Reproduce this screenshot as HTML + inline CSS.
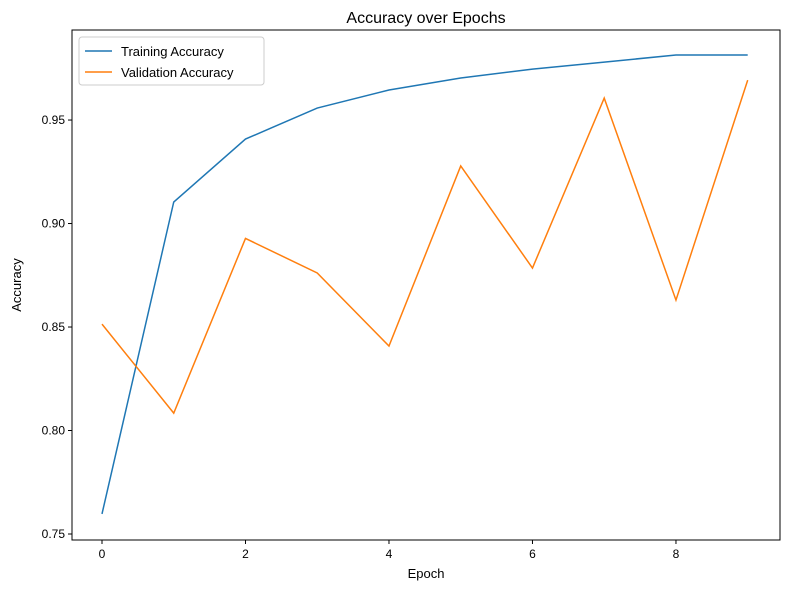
<!DOCTYPE html>
<html><head><meta charset="utf-8"><style>
body{margin:0;background:#fff;}
svg{display:block;font-family:"Liberation Sans","DejaVu Sans",sans-serif;}
</style></head><body>
<svg id="chart" width="790" height="590" viewBox="0 0 790 590" xmlns="http://www.w3.org/2000/svg">
<rect width="790" height="590" fill="#fff"/>
<text x="426" y="23" font-size="16" text-anchor="middle" fill="#000">Accuracy over Epochs</text>
<g id="ticks"></g>
<g id="lines"></g>
<rect x="72" y="30" width="708" height="510" fill="none" stroke="#000" stroke-width="1"/>
<text x="426" y="578" font-size="13" text-anchor="middle">Epoch</text>
<text x="0" y="0" font-size="13" text-anchor="middle" transform="translate(21,285) rotate(-90)">Accuracy</text>
<g>
<rect x="79" y="37" width="185" height="48" rx="3" fill="#fff" fill-opacity="0.8" stroke="#ccc"/>
<line x1="85" y1="51" x2="112" y2="51" stroke="#1f77b4" stroke-width="1.5"/>
<text x="121" y="56" font-size="13">Training Accuracy</text>
<line x1="85" y1="72" x2="112" y2="72" stroke="#ff7f0e" stroke-width="1.5"/>
<text x="121" y="77" font-size="13">Validation Accuracy</text>
</g>
</svg>
<script>
const epochs = [0,1,2,3,4,5,6,7,8,9];
const trainAcc = [0.7597,0.9104,0.9408,0.9558,0.9645,0.9703,0.9746,0.978,0.9814,0.9814];
const valAcc = [0.8514,0.8084,0.8928,0.8761,0.8408,0.9278,0.8785,0.9606,0.863,0.9693];
const xTicks = [0,2,4,6,8];
const yTicks = [0.75,0.80,0.85,0.90,0.95];
const yTickLabels = ["0.75","0.80","0.85","0.90","0.95"];
const L=72,R=780,T=30,B=540;
const xMin=-0.418,xMax=9.45,yMin=0.7471,yMax=0.9935;
const xs=v=>L+(v-xMin)/(xMax-xMin)*(R-L);
const ys=v=>B-(v-yMin)/(yMax-yMin)*(B-T);
const NS="http://www.w3.org/2000/svg";
const tg=document.getElementById('ticks');
xTicks.forEach(t=>{
  const l=document.createElementNS(NS,'line');
  
  
  l.setAttribute('x1',xs(t));l.setAttribute('x2',xs(t));l.setAttribute('y1',B);l.setAttribute('y2',B+4);l.setAttribute('stroke','#000');
  tg.appendChild(l);
  const tx=document.createElementNS(NS,'text');
  
  
  tx.setAttribute('x',xs(t));tx.setAttribute('y',B+18);tx.setAttribute('font-size','12');tx.setAttribute('text-anchor','middle');
  tx.textContent=t;tg.appendChild(tx);
});
yTicks.forEach((t,i)=>{
  const l=document.createElementNS(NS,'line');
  
  
  l.setAttribute('x1',L-4);l.setAttribute('x2',L);l.setAttribute('y1',ys(t));l.setAttribute('y2',ys(t));l.setAttribute('stroke','#000');
  tg.appendChild(l);
  const tx=document.createElementNS(NS,'text');
  
  
  tx.setAttribute('x',L-7);tx.setAttribute('y',ys(t)+4);tx.setAttribute('font-size','12');tx.setAttribute('text-anchor','end');
  tx.textContent=yTickLabels[i];tg.appendChild(tx);
});
const lg=document.getElementById('lines');
function addLine(data,color,name){
  const p=document.createElementNS(NS,'polyline');
  
  
  p.setAttribute('points',data.map((v,i)=>xs(epochs[i])+','+ys(v)).join(' '));
  p.setAttribute('fill','none');p.setAttribute('stroke',color);p.setAttribute('stroke-width','1.5');
  lg.appendChild(p);
}
addLine(trainAcc,'#1f77b4','training-accuracy-line');
addLine(valAcc,'#ff7f0e','validation-accuracy-line');
</script>
</body></html>
